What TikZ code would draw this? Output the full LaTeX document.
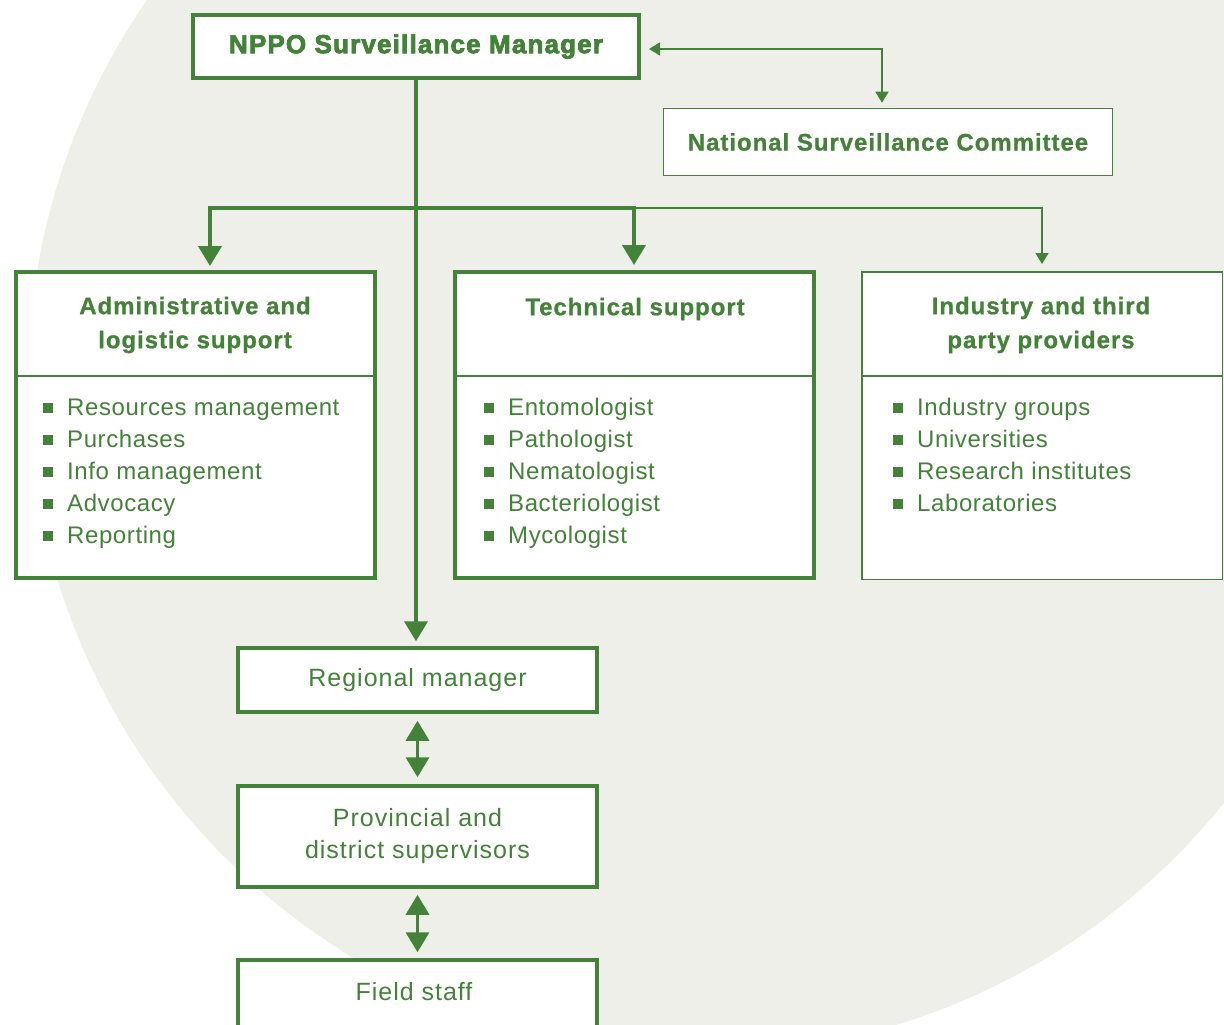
\documentclass[tikz,border=0pt]{standalone}
\usepackage{fontspec}
\setmainfont{Liberation Sans}
\newfontfamily\bodyfont{Liberation Sans}[LetterSpace=2.5]
\newfontfamily\lowfont{Liberation Sans}[LetterSpace=4]
\newfontfamily\titlefont{Liberation Sans}[LetterSpace=4,BoldFeatures={FakeBold=0.8}]
\newfontfamily\heavyfont{Liberation Sans Bold}[LetterSpace=4.5,FakeBold=3]
\usetikzlibrary{arrows.meta}
\definecolor{leaf}{RGB}{68,130,58}
\definecolor{mist}{RGB}{239,239,233}
\begin{document}
\begin{tikzpicture}[x=1pt,y=-1pt,
  box/.style={draw=leaf, fill=white, inner sep=0pt},
  heavybox/.style={box, line width=4pt},
  midbox/.style={box, line width=3.5pt},
  lightbox/.style={box, line width=1.5pt},
  thickline/.style={draw=leaf, line width=4pt},
  shaftline/.style={draw=leaf, line width=3.5pt},
  thinline/.style={draw=leaf, line width=1.5pt},
  divider/.style={draw=leaf, line width=1.2pt},
  bigtip/.style={-{Triangle[length=20pt,width=23pt]}},
  bigtips/.style={{Triangle[length=20pt,width=23pt]}-{Triangle[length=20pt,width=23pt]}},
  smalltips/.style={{Triangle[length=11pt,width=13pt]}-{Triangle[length=11pt,width=13pt]}},
  smalltip/.style={-{Triangle[length=11pt,width=13pt]}},
  heavytext/.style={text=leaf, font=\heavyfont\fontsize{26}{30}\selectfont},
  titletext/.style={text=leaf, align=center, inner sep=0pt, font=\titlefont\bfseries\fontsize{24}{34}\selectfont},
  itemtext/.style={text=leaf, inner sep=0pt, font=\bodyfont\fontsize{24}{32}\selectfont},
  lowtext/.style={text=leaf, align=center, font=\lowfont\fontsize{25}{32}\selectfont},
]
\useasboundingbox (0,0) rectangle (1224,1025);
\clip (0,0) rectangle (1224,1025);
\fill[white] (0,0) rectangle (1224,1025);
\fill[mist] (700,382) circle[radius=672];

% boxes
\node[heavybox, minimum width=446pt, minimum height=63pt, heavytext] (nppo) at (416,46.5) {NPPO Surveillance Manager};
\node[lightbox, minimum width=449pt, minimum height=67pt, titletext] (nsc) at (888,142) {National Surveillance Committee};

\node[heavybox, minimum width=359pt, minimum height=306pt] (admin) at (195.5,425) {};
\node[heavybox, minimum width=359pt, minimum height=306pt] (tech) at (634.5,425) {};
\node[lightbox, minimum width=360.5pt, minimum height=307.5pt] (ind) at (1042,425.5) {};

\node[midbox, minimum width=359pt, minimum height=64pt, lowtext] (reg) at (417.5,680) {Regional manager};
\node[midbox, minimum width=359pt, minimum height=101pt, lowtext] (prov) at (417.5,836.5) {Provincial and\\district supervisors};
\node[midbox, minimum width=359pt, minimum height=70pt] (field) at (417.5,995) {};
\node[lowtext] (fieldtxt) at (414,992) {Field staff};

% dividers
\draw[divider] (admin.west |- 0,376) -- (admin.east |- 0,376);
\draw[divider] (tech.west |- 0,376) -- (tech.east |- 0,376);
\draw[divider] (ind.west |- 0,376) -- (ind.east |- 0,376);

% titles
\node[titletext] (admintitle) at (195,325) {Administrative and\\logistic support};
\node[titletext] (techtitle) at (635,309) {Technical support};
\node[titletext] (indtitle) at (1041,325) {Industry and third\\party providers};

% items
\foreach \t [count=\i from 0] in {Resources management, Purchases, Info management, Advocacy, Reporting} {
  \fill[leaf] (43,403+32*\i) rectangle ++(10,10);
  \node[itemtext, anchor=base west] (a\i) at (67,415+32*\i) {\t};
}
\foreach \t [count=\i from 0] in {Entomologist, Pathologist, Nematologist, Bacteriologist, Mycologist} {
  \fill[leaf] (484,403+32*\i) rectangle ++(10,10);
  \node[itemtext, anchor=base west] (t\i) at (508,415+32*\i) {\t};
}
\foreach \t [count=\i from 0] in {Industry groups, Universities, Research institutes, Laboratories} {
  \fill[leaf] (893,403+32*\i) rectangle ++(10,10);
  \node[itemtext, anchor=base west] (n\i) at (917,415+32*\i) {\t};
}

% connectors
\coordinate (cr) at (882,49);
\draw[thinline, smalltips, shorten <=8pt, shorten >=5pt] (nppo.east |- cr) -- (cr) -- (cr |- nsc.north);

\coordinate (bl) at (210,208);
\coordinate (bm) at (634,208);
\coordinate (brr) at (1042,208);
\draw[thickline, bigtip, shorten >=5pt] (nppo.south) -- (nppo.south |- reg.north);
\draw[thickline, bigtip, shorten >=4pt] (bm) -- (bl) -- (bl |- admin.north);
\draw[thickline, bigtip, shorten >=5pt] (bl) -- (bm) -- (bm |- tech.north);
\draw[thinline, smalltip, shorten >=7pt] (bm) -- (brr) -- (brr |- ind.north);

\draw[shaftline, bigtips, shorten <=7pt, shorten >=7pt] (reg.south) -- (prov.north);
\draw[shaftline, bigtips, shorten <=6pt, shorten >=6pt] (prov.south) -- (field.north);
\end{tikzpicture}
\end{document}
